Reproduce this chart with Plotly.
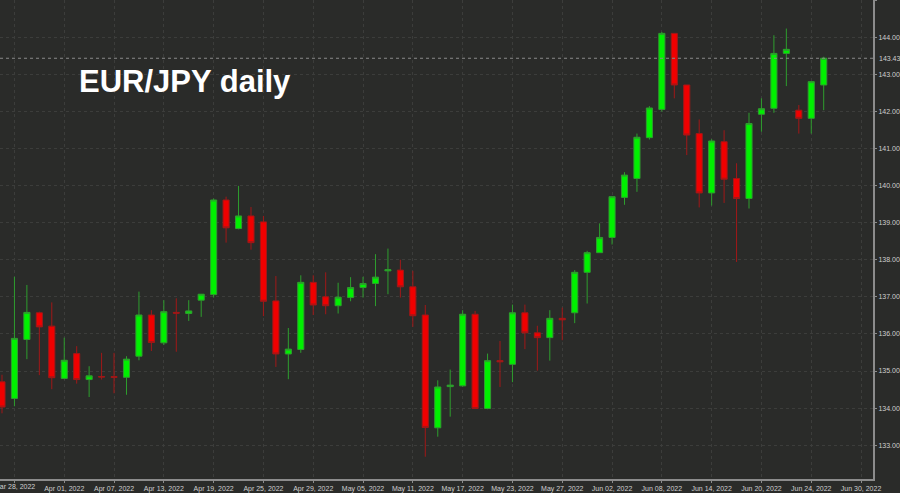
import plotly.graph_objects as go
import pandas as pd

# trading days, Mar 25 -> Jun 27 2022
dates = pd.bdate_range('2022-03-25', '2022-06-27')

opens = [134.71, 134.26, 135.85, 136.57, 136.21, 134.80, 135.47, 134.77, 134.85, 134.85,
         134.83, 135.40, 136.51, 135.76, 136.58, 136.55, 136.91, 137.06, 139.61, 138.84,
         139.18, 139.02, 136.89, 135.46, 135.58, 137.39, 137.00, 136.76, 136.98, 137.25,
         137.36, 137.70, 137.72, 137.27, 136.51, 133.47, 134.58, 134.60, 136.53, 133.99,
         135.28, 135.18, 136.57, 136.03, 135.90, 136.42, 136.57, 137.66, 138.19, 138.60,
         139.68, 140.19, 141.29, 142.05, 144.10, 142.71, 141.40, 139.80, 141.18, 140.19,
         139.65, 141.92, 142.08, 143.56, 142.03, 141.81, 142.71]
closes = [134.03, 135.88, 136.58, 136.19, 134.82, 135.29, 134.77, 134.87, 134.84, 134.83,
          135.32, 136.51, 135.77, 136.60, 136.56, 136.62, 137.07, 139.61, 138.86, 139.18,
          138.46, 136.88, 135.46, 135.59, 137.39, 136.78, 136.76, 136.99, 137.25, 137.36,
          137.53, 137.73, 137.27, 136.49, 133.48, 134.57, 134.62, 136.53, 133.99, 135.28,
          135.25, 136.57, 136.03, 135.90, 136.42, 136.38, 137.66, 138.19, 138.60, 139.70,
          140.28, 141.30, 142.09, 144.10, 142.71, 141.36, 139.80, 141.20, 140.17, 139.65,
          141.67, 142.07, 143.56, 143.67, 141.81, 142.80, 143.43]
highs = [134.90, 137.54, 137.32, 136.60, 136.85, 135.90, 135.67, 135.13, 135.49, 135.49,
         135.40, 137.14, 136.64, 136.91, 136.96, 136.91, 137.07, 139.65, 139.70, 139.99,
         139.42, 139.18, 137.56, 136.16, 137.58, 137.58, 137.66, 137.38, 137.53, 137.54,
         138.15, 138.30, 138.00, 137.70, 136.78, 134.75, 135.04, 136.64, 136.62, 135.47,
         135.81, 136.79, 136.79, 136.22, 136.64, 136.71, 137.72, 138.24, 138.98, 139.70,
         140.36, 141.40, 142.14, 144.14, 144.10, 142.71, 141.78, 141.25, 141.49, 140.60,
         141.96, 142.35, 144.05, 144.23, 142.17, 142.80, 143.47]
lows = [133.86, 134.05, 135.32, 134.89, 134.51, 134.78, 134.66, 134.30, 134.77, 134.40,
        134.36, 135.29, 135.54, 135.70, 135.52, 136.35, 136.46, 136.98, 138.46, 138.82,
        138.27, 136.48, 135.11, 134.78, 135.49, 136.51, 136.53, 136.55, 136.88, 136.98,
        136.75, 137.07, 136.98, 136.19, 132.69, 133.23, 133.77, 134.58, 133.98, 133.97,
        134.57, 134.70, 135.59, 135.01, 135.28, 135.83, 136.29, 136.82, 138.19, 138.41,
        139.48, 139.83, 141.24, 141.99, 142.35, 140.82, 139.41, 139.46, 139.53, 137.94,
        139.38, 141.45, 141.96, 142.68, 141.40, 141.40, 142.03]

last_price = 143.43
tick_dates = ['Mar 28, 2022', 'Apr 01, 2022', 'Apr 07, 2022', 'Apr 13, 2022', 'Apr 19, 2022',
              'Apr 25, 2022', 'Apr 29, 2022', 'May 05, 2022', 'May 11, 2022', 'May 17, 2022',
              'May 23, 2022', 'May 27, 2022', 'Jun 02, 2022', 'Jun 08, 2022', 'Jun 14, 2022',
              'Jun 20, 2022', 'Jun 24, 2022', 'Jun 30, 2022']

# bar index relative to Mar 28 (Mar 25 is -1); Jun 30 falls after the data
idx = [i - 1 for i in range(len(dates))]
tick_pos = [idx[0] + 1 + 4 * k for k in range(len(tick_dates))]

fig = go.Figure(go.Candlestick(
    x=idx, open=opens, high=highs, low=lows, close=closes,
    increasing=dict(line=dict(color='#2e9e2e', width=1), fillcolor='#00f000'),
    decreasing=dict(line=dict(color='#a01818', width=1), fillcolor='#f00000'),
    whiskerwidth=0,
    hoverinfo='skip',
))

axfont = dict(size=7, color='#cfcfcf', family='Liberation Sans')

fig.add_hline(y=last_price, line=dict(color='#8a8a8a', width=1, dash='dot'))
fig.add_annotation(x=1, xref='paper', xanchor='left', xshift=4, y=last_price,
                   text='%.2f' % last_price, showarrow=False, font=axfont)
# first date label sits on the left edge, plotly would drop it as a tick label
fig.add_annotation(x=tick_pos[0], y=0, yref='paper', yanchor='top', yshift=-2,
                   text=tick_dates[0], showarrow=False, font=axfont)
fig.add_annotation(x=0.088, xref='paper', y=0.87, yref='paper', text='<b>EUR/JPY daily</b>',
                   showarrow=False, xanchor='left',
                   font=dict(size=31, color='white', family='Liberation Sans'))

fig.update_layout(
    width=900, height=493, autosize=False,
    paper_bgcolor='#2a2b29', plot_bgcolor='#2a2b29',
    margin=dict(l=0, r=27, t=0, b=14, pad=0),
    showlegend=False,
    xaxis=dict(range=[-1.16, 68.96], tickvals=tick_pos, ticktext=tick_dates,
               rangeslider=dict(visible=False), automargin=False, zeroline=False,
               showgrid=True, gridcolor='#3c3d3b', griddash='dot',
               showline=True, linecolor='#8c8c8c', linewidth=2,
               ticks='outside', ticklen=2, tickcolor='#8c8c8c', tickfont=axfont),
    yaxis=dict(range=[132.09, 145.0], side='right', dtick=1, tickformat='.2f',
               automargin=False, zeroline=False,
               showgrid=True, gridcolor='#3c3d3b', griddash='dot',
               showline=True, linecolor='#8c8c8c', linewidth=2,
               ticks='outside', ticklen=2, tickcolor='#8c8c8c', tickfont=axfont),
)

# the page's default body margin would shift the figure by 8px
fig.write_html('out.html', config={'displayModeBar': False},
               post_script="document.body.style.margin='0';")
